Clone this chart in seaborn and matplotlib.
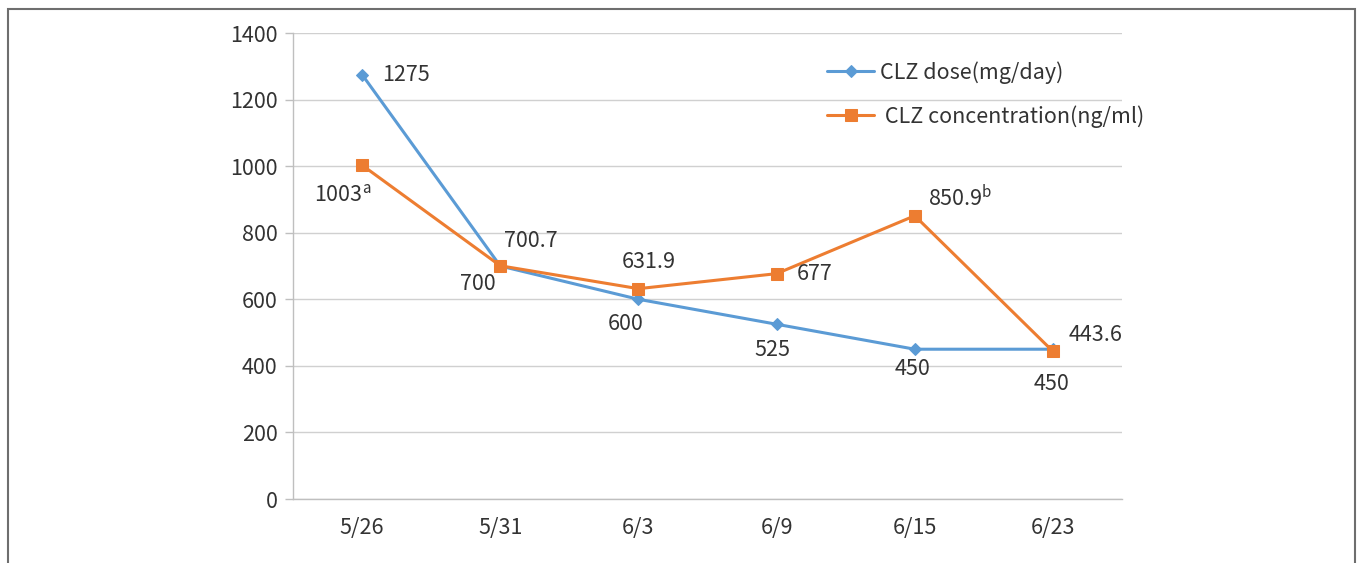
import matplotlib
matplotlib.use("Agg")
import matplotlib.pyplot as plt
import matplotlib.patches as mpatches
import seaborn as sns
import numpy as np

dates = ["5/26", "5/31", "6/3", "6/9", "6/15", "6/23"]
dose = [1275, 700, 600, 525, 450, 450]
conc = [1003, 700.7, 631.9, 677, 850.9, 443.6]
dose_labels = ["1275", "700", "600", "525", "450", "450"]
conc_labels = ["1003$^\\mathregular{a}$", "700.7", "631.9", "677", "850.9$^\\mathregular{b}$", "443.6"]
yticks = [0, 200, 400, 600, 800, 1000, 1200, 1400]

sns.set_style("white")
plt.rcParams['font.family'] = ['Noto Sans CJK SC', 'DejaVu Sans']
plt.rcParams['text.color'] = '#333333'

blue = '#5B9BD5'
orange = '#ED7D31'
FS = 15.5

fig = plt.figure(figsize=(13.57, 5.63), dpi=100)
ax = fig.add_axes([293/1357, 1-499/563, (1122-293)/1357, (499-33)/563])

x = np.arange(len(dates))
sns.lineplot(x=x, y=dose, ax=ax, color=blue, lw=2.2, marker='D', markersize=6.5,
             markeredgecolor=blue, label='CLZ dose(mg/day)')
sns.lineplot(x=x, y=conc, ax=ax, color=orange, lw=2.2, marker='s', markersize=9,
             markeredgecolor=orange, label=' CLZ concentration(ng/ml)')

ax.set_xlim(-0.5, 5.5)
ax.set_ylim(0, 1400)
ax.set_yticks(yticks)
ax.set_yticklabels([str(v) for v in yticks])
ax.set_xticks(x)
ax.set_xticklabels(dates)
ax.set_xticks(np.arange(-0.5, 6.0, 1.0), minor=True)
ax.tick_params(axis='x', which='major', length=0, pad=13, labelsize=FS, labelcolor='#333333')
ax.tick_params(axis='x', which='minor', length=5, width=1, color='#BFBFBF', direction='out')
ax.tick_params(axis='y', length=6, width=1, color='#BFBFBF', pad=5, labelsize=FS,
               labelcolor='#333333', left=True, direction='out')
ax.yaxis.grid(True, color='#D0D0D0', lw=1)
ax.set_axisbelow(True)
for s in ['top', 'right']:
    ax.spines[s].set_visible(False)
for s in ['left', 'bottom']:
    ax.spines[s].set_color('#BFBFBF')
    ax.spines[s].set_linewidth(1)

dose_off = [(14.4, 0, 'left'), (-15.8, -13, 'center'), (-9.4, -18, 'center'),
            (-2.9, -18.7, 'center'), (-1.4, -14.5, 'center'), (-0.7, -25, 'center')]
for i, (v, t) in enumerate(zip(dose, dose_labels)):
    dx, dy, ha = dose_off[i]
    ax.annotate(t, xy=(i, v), xytext=(dx, dy), textcoords='offset points',
                ha=ha, va='center', fontsize=FS, color='#333333')

conc_off = [(-34.6, -26, 'left', 'baseline'), (2.9, 18, 'left', 'center'),
            (7.2, 19.4, 'center', 'center'), (14.4, 0, 'left', 'center'),
            (9.4, 7.2, 'left', 'baseline'), (11.5, 11.8, 'left', 'center')]
for i, (v, t) in enumerate(zip(conc, conc_labels)):
    dx, dy, ha, va = conc_off[i]
    ax.annotate(t, xy=(i, v), xytext=(dx, dy), textcoords='offset points',
                ha=ha, va=va, fontsize=FS, color='#333333')

leg = ax.legend(loc='upper left', bbox_to_anchor=((827-293)/829, (499-61)/466),
                frameon=False, fontsize=FS, handlelength=2.2, handletextpad=0.25,
                labelspacing=1.0, borderaxespad=0, borderpad=0)
for txt in leg.get_texts():
    txt.set_color('#333333')

frame = mpatches.Rectangle((8/1357, -0.05), (1355-8)/1357, 1.05 - 9/563,
                           transform=fig.transFigure, fill=False,
                           edgecolor='#6E6E6E', lw=1.5, clip_on=False)
fig.patches.append(frame)

fig.savefig('out.png', dpi=100, facecolor='white')
